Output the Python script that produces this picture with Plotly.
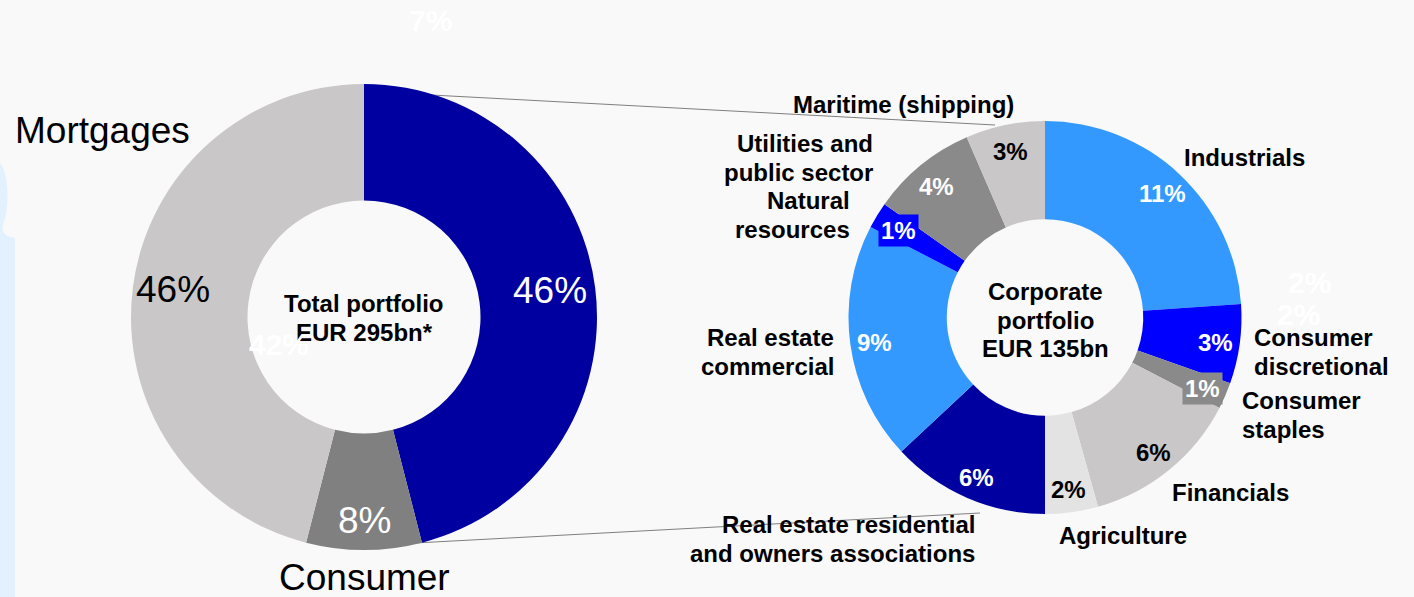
import math
import plotly.graph_objects as go

W, H = 1414, 597
FONT = "Liberation Sans, Arial, sans-serif"

# ---- Total portfolio split (% of EUR 295bn) ----
total_labels = ["Corporate", "Consumer", "Mortgages"]
total_values = [46, 8, 46]
total_colors = ["#0000a0", "#808080", "#c9c7c8"]

# ---- Corporate portfolio by sector (% of total portfolio) ----
sector_labels = [
    "Industrials",
    "Consumer<br>discretional",
    "Consumer<br>staples",
    "Financials",
    "Agriculture",
    "Real estate residential<br>and owners associations",
    "Real estate<br>commercial",
    "Natural<br>resources",
    "Utilities and<br>public sector",
    "Maritime (shipping)",
]
sector_values = [11, 3, 1, 6, 2, 6, 9, 1, 4, 3]
sector_colors = ["#3399ff", "#0000ff", "#8a8a8a", "#c9c7c8", "#e3e3e3",
                 "#0000a0", "#3399ff", "#0000ff", "#8a8a8a", "#c9c7c8"]

# faint white figures in the background of the slide
faded_labels = ["7%", "42%", "2%", "2%"]

# centre captions
total_caption = "Total portfolio<br>EUR 295bn*"
corporate_caption = "Corporate<br>portfolio<br>EUR 135bn"

# ---- layout geometry (pixels) ----
LEFT = (364, 317, 233)        # cx, cy, outer radius
RIGHT = (1045, 317.5, 196.5)
HOLE = 0.5
BOLD_SIZE = 24
LINE_GAP = 28.5


def to_paper(x, y):
    return x / W, 1 - y / H


def domain(cx, cy, r):
    return dict(x=[(cx - r) / W, (cx + r) / W], y=[1 - (cy + r) / H, 1 - (cy - r) / H])


def polar(cx, cy, r, deg):
    a = math.radians(deg)
    return cx + r * math.sin(a), cy - r * math.cos(a)


def mid_angles(values):
    tot = sum(values)
    acc, out = 0, []
    for v in values:
        out.append((acc + v / 2) / tot * 360)
        acc += v
    return out


def is_light(hex_color):
    h = hex_color.lstrip("#")
    r, g, b = (int(h[i:i + 2], 16) for i in (0, 2, 4))
    return 0.299 * r + 0.587 * g + 0.114 * b > 180


fig = go.Figure()

for (cx, cy, r), labels, values, colors in [
    (LEFT, total_labels, total_values, total_colors),
    (RIGHT, sector_labels, sector_values, sector_colors),
]:
    fig.add_trace(go.Pie(
        labels=[s.replace("<br>", " ") for s in labels], values=values,
        sort=False, direction="clockwise",
        rotation=0, hole=HOLE, textinfo="none", hoverinfo="label+value",
        marker=dict(colors=colors, line=dict(width=0)),
        showlegend=False, domain=domain(cx, cy, r),
    ))


def add_text(x, y, s, size, color="#000000", bold=False, xanchor="center",
             bgcolor=None, pad=1):
    px, py = to_paper(x, y)
    fig.add_annotation(
        x=px, y=py, xref="paper", yref="paper",
        text=f"<b>{s}</b>" if bold else s, showarrow=False,
        xanchor=xanchor, yanchor="middle", align=xanchor,
        font=dict(family=FONT, size=size, color=color),
        bgcolor=bgcolor, borderpad=pad,
    )


def add_lines(x, y, s, size, xanchor="center", bold=True, gap=LINE_GAP):
    """Multi-line text block centred on y, one annotation per line."""
    lines = s.split("<br>")
    top = y - gap * (len(lines) - 1) / 2
    for i, line in enumerate(lines):
        add_text(x, top + i * gap, line, size, bold=bold, xanchor=xanchor)


# percentage labels on the total portfolio ring
left_label_r = [187, 206, 193]
for v, c, a, rr in zip(total_values, total_colors, mid_angles(total_values), left_label_r):
    x, y = polar(LEFT[0], LEFT[1], rr, a)
    add_text(x, y - 3, f"{v}%", 37, color="#000000" if is_light(c) else "#ffffff")

add_text(102, 130, "Mortgages", 37)
add_text(364, 577, "Consumer", 37)
add_lines(LEFT[0], 318, total_caption, BOLD_SIZE)

# percentage labels on the corporate ring
for v, c, a in zip(sector_values, sector_colors, mid_angles(sector_values)):
    x, y = polar(RIGHT[0], RIGHT[1], 172, a)
    add_text(x, y + 2, f"{v}%", BOLD_SIZE, bold=True,
             color="#000000" if is_light(c) else "#ffffff",
             bgcolor=c if v <= 1 else None, pad=2)

add_lines(RIGHT[0], 320, corporate_caption, BOLD_SIZE)

# sector names: (x, y, xanchor)
sector_name_pos = [
    (1244, 157, "center"),
    (1252, 352, "left"),
    (1240, 415, "left"),
    (1230, 492, "center"),
    (1123, 535, "center"),
    (977, 539, "right"),
    (836, 352, "right"),
    (852, 215, "right"),
    (875, 158, "right"),
    (903, 105, "center"),
]
for name, (x, y, xa) in zip(sector_labels, sector_name_pos):
    add_lines(x, y, name, BOLD_SIZE, xanchor=xa)

# faint white figures
for s, (x, y) in zip(faded_labels, [(430, 20), (279, 345), (1309, 282), (1298, 314)]):
    add_text(x, y, s, 30, bold=True, color="#ffffff")

# connector lines from the corporate slice to the sector ring
x0, y0 = to_paper(375, 92)
x1, y1 = to_paper(995, 125)
x2, y2 = to_paper(415, 543)
x3, y3 = to_paper(980, 513)
shapes = [
    dict(type="line", xref="paper", yref="paper", x0=x0, y0=y0, x1=x1, y1=y1,
         line=dict(color="#7f7f7f", width=1), layer="below"),
    dict(type="line", xref="paper", yref="paper", x0=x2, y0=y2, x1=x3, y1=y3,
         line=dict(color="#7f7f7f", width=1), layer="below"),
]

# pale blue strip at the left edge
path = "M {},{} C {},{} {},{} {},{} Q {},{} {},{} L {},{} L {},{} Z".format(
    *to_paper(0, 163), *to_paper(10, 175), *to_paper(9, 212), *to_paper(3, 224),
    *to_paper(0, 236), *to_paper(15, 238), *to_paper(15, 597), *to_paper(0, 597))
shapes.append(dict(type="path", xref="paper", yref="paper", path=path,
                   fillcolor="#e3f0fd", line=dict(width=0), layer="below"))

fig.update_layout(
    width=W, height=H, margin=dict(l=0, r=0, t=0, b=0),
    paper_bgcolor="#f9f9f9", plot_bgcolor="#f9f9f9",
    shapes=shapes,
)

fig.write_html("out.html")
